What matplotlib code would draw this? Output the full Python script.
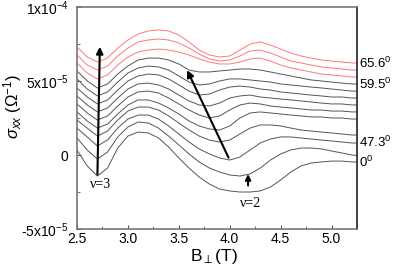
import numpy as np
import matplotlib
matplotlib.use("Agg")
import matplotlib.pyplot as plt
from matplotlib.ticker import MultipleLocator

plt.rcParams['font.family'] = ['Liberation Sans', 'DejaVu Sans']
plt.rcParams['mathtext.fontset'] = 'custom'
plt.rcParams['mathtext.rm'] = 'Liberation Sans'
plt.rcParams['mathtext.it'] = 'Liberation Sans:italic'

# magnetic field grid (T)
B = [2.5, 2.6, 2.7, 2.8, 2.9, 3.0, 3.1, 3.2, 3.3, 3.4, 3.5, 3.6, 3.7, 3.8, 3.9,
     4.0, 4.1, 4.2, 4.3, 4.4, 4.5, 4.6, 4.7, 4.8, 4.9, 5.0, 5.1, 5.2, 5.3]

# sigma_xx in units of 1e-5 1/Ohm, top curve (65.6 deg) first, bottom (0 deg) last
red_curves = [
    [7.30, 6.62, 6.28, 6.55, 7.23, 7.77, 8.18, 8.38, 8.45, 8.38, 8.11, 7.64, 7.09, 6.76, 6.62,
     6.69, 7.09, 7.50, 7.64, 7.43, 7.16, 6.89, 6.69, 6.55, 6.42, 6.35, 6.28, 6.22, 6.22],
    [6.76, 6.08, 5.74, 6.01, 6.69, 7.23, 7.64, 7.77, 7.84, 7.77, 7.57, 7.23, 6.82, 6.49, 6.35,
     6.42, 6.69, 7.03, 7.09, 6.89, 6.62, 6.35, 6.22, 6.08, 5.95, 5.88, 5.81, 5.74, 5.74],
    [6.22, 5.54, 5.14, 5.41, 6.08, 6.62, 6.96, 7.09, 7.16, 7.09, 6.96, 6.76, 6.49, 6.28, 6.15,
     6.15, 6.28, 6.49, 6.55, 6.35, 6.08, 5.88, 5.74, 5.61, 5.47, 5.41, 5.34, 5.27, 5.27],
]
gray_curves = [
    [5.68, 5.00, 4.53, 4.80, 5.47, 6.01, 6.42, 6.55, 6.55, 6.42, 6.15, 5.74, 5.61, 5.61, 5.68,
     5.74, 5.81, 5.81, 5.74, 5.61, 5.47, 5.34, 5.20, 5.07, 5.00, 4.93, 4.86, 4.80, 4.80],
    [5.14, 4.46, 3.99, 4.26, 4.93, 5.54, 5.88, 6.01, 5.95, 5.74, 5.34, 4.93, 4.73, 4.80, 5.00,
     5.14, 5.14, 5.07, 5.00, 4.93, 4.80, 4.73, 4.66, 4.59, 4.53, 4.46, 4.39, 4.32, 4.32],
    [4.53, 3.92, 3.45, 3.72, 4.39, 5.00, 5.34, 5.47, 5.41, 5.14, 4.73, 4.32, 4.05, 4.12, 4.39,
     4.59, 4.66, 4.59, 4.46, 4.39, 4.26, 4.19, 4.12, 4.05, 3.99, 3.92, 3.92, 3.85, 3.85],
    [3.99, 3.38, 2.91, 3.18, 3.85, 4.46, 4.80, 4.86, 4.73, 4.46, 4.05, 3.65, 3.38, 3.31, 3.51,
     3.85, 3.99, 4.05, 3.92, 3.85, 3.78, 3.72, 3.65, 3.58, 3.51, 3.45, 3.45, 3.38, 3.38],
    [3.45, 2.84, 2.36, 2.64, 3.31, 3.92, 4.26, 4.32, 4.19, 3.85, 3.45, 3.04, 2.70, 2.50, 2.64,
     3.04, 3.38, 3.51, 3.45, 3.31, 3.24, 3.18, 3.11, 3.04, 3.04, 2.97, 2.97, 2.91, 2.91],
    [2.91, 2.30, 1.82, 2.09, 2.77, 3.38, 3.72, 3.72, 3.51, 3.18, 2.77, 2.30, 1.96, 1.76, 1.69,
     1.96, 2.50, 2.84, 2.91, 2.84, 2.77, 2.70, 2.64, 2.57, 2.57, 2.50, 2.50, 2.43, 2.43],
    [2.36, 1.82, 1.28, 1.62, 2.36, 2.97, 3.24, 3.24, 3.04, 2.64, 2.16, 1.69, 1.28, 1.01, 0.88,
     1.01, 1.42, 1.82, 2.03, 2.03, 1.96, 1.82, 1.69, 1.62, 1.55, 1.49, 1.42, 1.35, 1.35],
    [1.82, 1.22, 0.61, 1.01, 1.82, 2.43, 2.70, 2.70, 2.43, 1.96, 1.42, 0.88, 0.41, 0.07, -0.20,
     -0.34, -0.14, 0.34, 0.81, 1.08, 1.22, 1.22, 1.15, 1.08, 1.01, 0.95, 0.88, 0.81, 0.81],
    [1.15, 0.34, -0.27, 0.20, 1.22, 1.89, 2.23, 2.16, 1.82, 1.28, 0.68, 0.07, -0.47, -0.88, -1.15,
     -1.35, -1.42, -1.28, -0.88, -0.34, 0.07, 0.34, 0.47, 0.47, 0.41, 0.27, 0.14, 0.00, -0.07],
    [0.34, -0.74, -1.42, -0.88, 0.47, 1.28, 1.55, 1.49, 1.15, 0.54, -0.20, -0.88, -1.49, -1.96, -2.30,
     -2.43, -2.50, -2.50, -2.43, -2.16, -1.69, -1.15, -0.74, -0.54, -0.47, -0.41, -0.41, -0.47, -0.47],
]

angle_labels = ['65.6$^0$', '59.5$^0$', '47.3$^0$', '0$^0$']
angle_label_y = [6.22, 4.80, 0.88, -0.47]

ytick_vals = [-5e-5, 0, 5e-5, 1e-4]
ytick_text = ['-5x10$^{-5}$', '0', '5x10$^{-5}$', '1x10$^{-4}$']

fig = plt.figure(figsize=(3.98, 2.67), dpi=100)
ax = fig.add_axes([0.1935, 0.1423, 0.7035, 0.8315])

Bv = np.array(B)
for c in red_curves:
    ax.plot(Bv, np.array(c) * 1e-5, color='#ff7878', lw=0.7)
for c in gray_curves:
    ax.plot(Bv, np.array(c) * 1e-5, color='#555555', lw=0.7)

ax.set_xlim(2.5, 5.25)
ax.set_ylim(-5e-5, 1e-4)
ax.xaxis.set_major_locator(MultipleLocator(0.5))
ax.xaxis.set_minor_locator(MultipleLocator(0.25))
ax.set_yticks(ytick_vals)
ax.set_yticklabels(ytick_text)
ax.yaxis.set_minor_locator(MultipleLocator(2.5e-5))
ax.tick_params(which='both', direction='in', labelsize=10, color='#555555')
ax.tick_params(which='major', length=3)
ax.tick_params(which='minor', length=2)
ax.tick_params(axis='x', pad=2)
ax.tick_params(axis='y', pad=6)
for s in ax.spines.values():
    s.set_color('#777777')
    s.set_linewidth(1.2)
ax.spines['right'].set_color('#222222')

ax.set_ylabel(r'$\sigma_{xx}$ ($\Omega^{-1}$)', fontsize=12)
ax.yaxis.set_label_coords(-0.19, 0.55)
ax.set_xlabel(r'B$_{\perp}$(T)', fontsize=12.5)
ax.xaxis.set_label_coords(0.49, -0.08)

for txt, yv in zip(angle_labels, angle_label_y):
    ax.text(5.27, yv * 1e-5, txt, fontsize=9.5, va='center', ha='left', clip_on=False)

ax.annotate('', xy=(2.725, 7.5e-5), xytext=(2.7, -1.5e-5),
            arrowprops=dict(arrowstyle='-|>', color='black', lw=1.5, mutation_scale=10))
ax.annotate('', xy=(3.57, 5.9e-5), xytext=(4.0, -0.35e-5),
            arrowprops=dict(arrowstyle='-|>', color='black', lw=1.5, mutation_scale=10))
ax.annotate('', xy=(4.18, -1.1e-5), xytext=(4.18, -2.25e-5),
            arrowprops=dict(arrowstyle='-|>', color='black', lw=1.5, mutation_scale=8))

ax.text(2.73, -2.0e-5, '\u03bd=3', fontsize=10, family=['Liberation Serif', 'DejaVu Serif'],
        ha='center', va='center')
ax.text(4.2, -3.25e-5, '\u03bd=2', fontsize=10, family=['Liberation Serif', 'DejaVu Serif'],
        ha='center', va='center')

fig.savefig('out.png', dpi=100)
